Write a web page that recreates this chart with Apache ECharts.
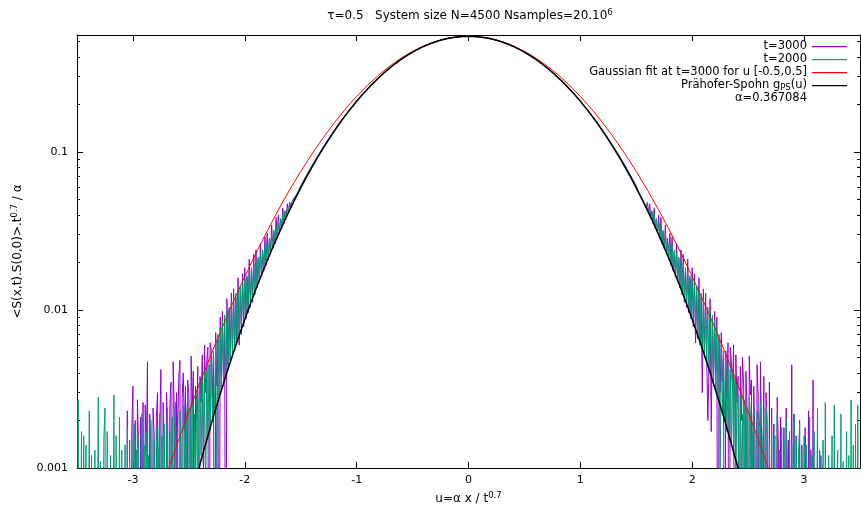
<!DOCTYPE html>
<html><head><meta charset="utf-8">
<script src="https://cdn.jsdelivr.net/npm/echarts@6/dist/echarts.min.js"></script>
<style>html,body{margin:0;padding:0;background:#fff}#c{width:861px;height:507px}</style>
</head><body><div id="c"></div>
<script>
// ---- tick labels ----
const xTicks = [-3, -2, -1, 0, 1, 2, 3];
const yMajorTicks = [0.001, 0.01, 0.1];
const yTickLabels = ['0.001', '0.01', '0.1'];
const yMinorTicks = [0.002,0.003,0.004,0.005,0.006,0.007,0.008,0.009,
                     0.02,0.03,0.04,0.05,0.06,0.07,0.08,0.09,
                     0.2,0.3,0.4,0.5];

// ---- series names ----
const seriesNames = ['t=3000', 't=2000', 'Gaussian fit at t=3000 for u [-0.5,0.5]', 'Prähofer-Spohn gPS(u)', 'α=0.367084'];

// ---- data: central part, u = -1.50 .. 1.50 step 0.05 ----
const coreStart = -1.5, coreStep = 0.05;
const t3000Core = [0.0612,0.0708,0.0818,0.0938,0.1070,0.1213,0.1369,0.1537,0.1714,0.1903,
0.2100,0.2307,0.2521,0.2741,0.2965,0.3191,0.3419,0.3644,0.3865,0.4080,
0.4285,0.4479,0.4659,0.4824,0.4971,0.5099,0.5206,0.5290,0.5352,0.5389,
0.5401,
0.5389,0.5352,0.5290,0.5206,0.5099,0.4971,0.4824,0.4659,0.4479,0.4285,
0.4080,0.3865,0.3644,0.3419,0.3191,0.2965,0.2741,0.2521,0.2307,0.2101,
0.1904,0.1715,0.1538,0.1370,0.1214,0.1071,0.0939,0.0819,0.0709,0.0610];
const t2000Core = [0.0605,0.0702,0.0812,0.0932,0.1064,0.1207,0.1363,0.1531,0.1709,0.1898,
0.2097,0.2304,0.2519,0.2739,0.2964,0.3190,0.3418,0.3643,0.3864,0.4079,
0.4284,0.4478,0.4658,0.4823,0.4970,0.5098,0.5205,0.5289,0.5351,0.5388,
0.5400,
0.5388,0.5351,0.5289,0.5205,0.5098,0.4970,0.4823,0.4658,0.4478,0.4284,
0.4079,0.3864,0.3643,0.3418,0.3190,0.2964,0.2739,0.2519,0.2304,0.2097,
0.1898,0.1709,0.1531,0.1363,0.1207,0.1064,0.0932,0.0812,0.0702,0.0606];

// ---- data: noisy tails, step 0.01, values in units of 1e-4 (0 = below the plotted range) ----
const tailStep = 0.01;
const leftTailStart = -3.50;   // -3.50 .. -1.51
const rightTailStart = 1.51;   //  1.51 ..  3.50
const t2000TailLeftE4 = [
0,27,0,0,17,0,16,0,14,0, 0,23,0,12,0,0,13,0,0,28, 0,11,0,0,15,24,0,17,0,0, 12,0,0,29,0,16,0,0,21,0,
13,0,0,14,0,18,0,11,0,15, 0,19,0,13,0,16,0,0,22,0, 14,0,17,0,12,0,20,0,0,15, 0,18,0,13,22,0,16,0,19,0,
14,24,0,17,0,21,0,15,26,0, 18,0,23,13,0,25,17,0,22,28, 0,24,8,27,0,22,9,29,4,26, 34,12,37,13,40,6,42,15,45,17,
48,20,55,22,62,8,70,28,78,31, 86,35,93,38,98,42,104,47,112,52, 119,57,127,63,135,69,141,76,149,83, 157,91,165,100,175,109,185,119,195,130,
204,142,216,154,227,167,240,181,253,197, 267,213,284,230,301,249,321,268,340,289, 360,311,380,334,401,359,425,386,440,414, 462,452,480,478,505,512,535,540,565,578];
const t3000TailLeftE4 = [
0,0,0,0,0,0,0,0,0,0, 0,0,0,0,0,0,0,0,0,0, 0,0,0,0,0,0,0,0,0,0, 0,0,0,0,0,0,0,0,0,0,
0,0,0,0,0,23,0,15,0,18, 33,0,20,0,27,14,0,21,0,26, 0,25,12,47,0,22,18,0,24,16, 0,21,30,0,18,42,0,26,14,0,
30,19,0,24,35,0,47,21,0,30, 16,38,48,0,28,40,17,33,0,36, 29,0,51,24,41,0,33,20,44,0, 38,26,52,8,60,30,47,58,0,62,
55,28,52,0,72,33,66,0,90,40, 98,33,88,0,118,45,100,48,128,50, 136,55,120,62,160,60,135,70,170,78, 185,88,160,96,210,104,178,112,225,125,
240,138,210,150,265,162,232,176,290,192, 305,208,275,225,345,244,310,262,385,283, 400,305,372,328,440,352,420,380,470,408, 480,450,478,470,515,505,530,535,565,570];
const t2000TailRightE4 = [
578,565,540,535,512,505,478,480,452,462, 414,440,386,425,359,401,334,380,311,360, 289,340,268,321,249,301,230,284,213,267, 197,253,181,240,167,227,154,216,142,204,
130,195,119,185,109,175,100,165,91,157, 83,149,76,141,69,135,63,127,57,119, 52,112,47,104,42,98,38,93,35,86, 31,78,28,70,9,62,22,55,20,48,
17,45,15,42,14,40,12,37,6,34, 26,4,29,9,22,0,27,8,24,0, 28,22,0,17,25,0,13,23,0,18, 26,0,15,21,0,24,17,0,14,0,
19,0,12,16,0,22,0,13,0,18, 0,15,0,20,12,0,17,0,14,0, 22,0,15,0,12,19,0,13,0,16, 0,14,0,0,21,0,12,0,17,0,
0,24,0,13,0,0,15,0,26,0, 0,12,0,0,16,0,25,0,0,13, 0,0,22,0,11,0,0,17,0,12, 0,27,0,14,0,19,0,25,0,0];
const t3000TailRightE4 = [
570,565,535,530,505,515,470,478,450,480, 408,470,380,420,352,440,328,372,305,400, 283,385,262,310,244,345,225,275,208,305, 192,290,176,232,162,265,150,210,138,240,
125,225,112,178,104,210,96,160,88,185, 78,170,62,135,66,160,60,120,30,136, 50,128,48,20,45,118,17,88,33,98, 40,90,0,66,30,72,35,52,0,55,
28,62,0,58,47,30,60,0,52,26, 38,0,44,20,50,33,0,41,24,0, 51,29,36,0,33,17,0,45,28,0, 47,16,0,38,0,30,20,0,35,0,
24,0,19,0,0,28,14,0,21,0, 0,18,0,24,0,15,0,0,45,0, 22,0,16,0,0,20,0,14,0,0, 18,0,0,23,0,13,0,36,0,0,
0,15,0,0,12,0,0,0,0,0, 0,0,0,0,0,0,0,0,0,0, 0,0,0,0,0,0,0,0,0,0, 0,0,0,0,0,0,0,0,0,0];

// ---- Prähofer-Spohn curve, u = -2.55 .. 2.55 step 0.05 ----
const psStart = -2.55, psStep = 0.05;
const psVals = [0.000415,0.000573,0.000783,0.00106,0.00142,0.00190,0.00250,0.00326,0.00423,0.00542,
0.00690,0.00871,0.01091,0.01356,0.01671,0.0205,0.0249,0.0300,0.0359,0.0427,
0.0504,0.0592,0.0690,0.0800,0.0921,0.1054,0.1199,0.1356,0.1525,0.1704,
0.1894,0.2094,0.2302,0.2517,0.2738,0.2963,0.3190,0.3418,0.3643,0.3864,
0.4079,0.4284,0.4478,0.4658,0.4823,0.4970,0.5098,0.5205,0.5289,0.5351,0.5388,
0.5400,
0.5388,0.5351,0.5289,0.5205,0.5098,0.4970,0.4823,0.4658,0.4478,0.4284,
0.4079,0.3864,0.3643,0.3418,0.3190,0.2963,0.2738,0.2517,0.2302,0.2094,
0.1894,0.1704,0.1525,0.1356,0.1199,0.1054,0.0921,0.0800,0.0690,0.0592,
0.0504,0.0427,0.0359,0.0300,0.0249,0.0205,0.01671,0.01356,0.01091,0.00871,
0.00690,0.00542,0.00423,0.00326,0.00250,0.00190,0.00142,0.00106,0.000783,0.000573,0.000415];

// ---- Gaussian fit, u = -2.8 .. 2.8 step 0.1 ----
const gaussStart = -2.8, gaussStep = 0.1;
const gaussVals = [0.000563,0.000912,0.00145,0.00227,0.00348,0.00525,0.00780,0.01137,0.01627,0.02291,
0.0316,0.0430,0.0574,0.0753,0.0970,0.1228,0.1529,0.1871,0.2248,0.2655,
0.3082,0.3515,0.3939,0.4337,0.4694,0.4991,0.5214,0.5353,
0.5400,
0.5353,0.5214,0.4991,0.4694,0.4337,0.3939,0.3515,0.3082,0.2655,0.2248,
0.1871,0.1529,0.1228,0.0970,0.0753,0.0574,0.0430,0.0316,0.02291,0.01627,
0.01137,0.00780,0.00525,0.00348,0.00227,0.00145,0.000912,0.000563];

// ---- build [u, value] pairs ----
const BELOW = 1e-5;
function grid(start, step, vals, scale) {
  return vals.map((v, i) => [+(start + i * step).toFixed(3), v > 0 ? v * scale : BELOW]);
}
const t3000Data = [].concat(
  grid(leftTailStart, tailStep, t3000TailLeftE4, 1e-4),
  grid(coreStart, coreStep, t3000Core, 1),
  grid(rightTailStart, tailStep, t3000TailRightE4, 1e-4));
const t2000Data = [].concat(
  grid(leftTailStart, tailStep, t2000TailLeftE4, 1e-4),
  grid(coreStart, coreStep, t2000Core, 1),
  grid(rightTailStart, tailStep, t2000TailRightE4, 1e-4));
const psData = grid(psStart, psStep, psVals, 1);
const gaussData = grid(gaussStart, gaussStep, gaussVals, 1);

const FONT = 'DejaVu Sans';
const supStyle = { fontSize: 8.5, fontFamily: FONT, color: '#000', verticalAlign: 'top', lineHeight: 15 };
const subStyle = { fontSize: 8.5, fontFamily: FONT, color: '#000', verticalAlign: 'bottom', lineHeight: 13 };
const nameText = { fontSize: 12, fontFamily: FONT, color: '#000', lineHeight: 15 };
// legend key: a thin horizontal bar inside a 35x13 box
const legendLineIcon = 'path://M0,0H0.01V0.01H0Z M0,5.9H35V7.2H0Z M0,12.99H0.01V13H0Z';

const axisLineStyle = { color: '#000', width: 1 };
function xAx(pos, showLabel) {
  return {
    type: 'value', min: -3.5, max: 3.5, position: pos,
    axisLine: { show: true, onZero: false, lineStyle: axisLineStyle },
    axisTick: { show: true, inside: true, length: 6, customValues: xTicks, lineStyle: axisLineStyle },
    axisLabel: { show: showLabel, customValues: xTicks, margin: 7, color: '#000', fontSize: 11, fontFamily: FONT },
    splitLine: { show: false }
  };
}
function yAx(pos, major, showLine) {
  return {
    type: 'log', logBase: 10, min: 0.001, max: 0.55, position: pos,
    axisLine: { show: showLine, onZero: false, lineStyle: axisLineStyle },
    axisTick: { show: true, inside: true, length: major ? 6 : 3, customValues: major ? yMajorTicks : yMinorTicks, lineStyle: axisLineStyle },
    axisLabel: { show: major && pos === 'left', customValues: yMajorTicks, margin: 9, color: '#000', fontSize: 11, fontFamily: FONT,
      formatter: v => { const i = yMajorTicks.findIndex(t => Math.abs(Math.log10(t) - Math.log10(v)) < 1e-6); return i >= 0 ? yTickLabels[i] : ''; } },
    splitLine: { show: false }, minorTick: { show: false }
  };
}

const xBottom = xAx('bottom', true);
xBottom.name = 'u=α x / t{sup|0.7}';
xBottom.nameLocation = 'middle';
xBottom.nameGap = 23;
xBottom.nameTextStyle = Object.assign({}, nameText, { rich: { sup: supStyle } });

const yLeft = yAx('left', true, true);
yLeft.name = '<S(x,t).S(0,0)>.t{sup|0.7} / α';
yLeft.nameLocation = 'middle';
yLeft.nameGap = 51;
yLeft.nameTextStyle = Object.assign({}, nameText, { rich: { sup: supStyle } });

const chart = echarts.init(document.getElementById('c'));
chart.setOption({
  animation: false,
  backgroundColor: '#fff',
  title: {
    text: 'τ=0.5   System size N=4500 Nsamples=20.10{sup|6}',
    left: 465, top: 3, textAlign: 'center',
    textStyle: Object.assign({}, nameText, { fontWeight: 'normal', rich: { sup: supStyle } })
  },
  grid: { left: 77, right: 1, top: 35, bottom: 39, containLabel: false, outerBoundsMode: 'none' },
  xAxis: [xBottom, xAx('top', false)],
  yAxis: [yLeft, yAx('left', false, false), yAx('right', true, true), yAx('right', false, false)],
  legend: {
    orient: 'vertical', right: 14, top: 40, align: 'right', padding: 0,
    itemWidth: 35, itemHeight: 13, itemGap: 0, selectedMode: false,
    textStyle: { fontSize: 11.5, fontFamily: FONT, color: '#000', lineHeight: 13, rich: { sub: subStyle } },
    formatter: n => n === seriesNames[3] ? 'Prähofer-Spohn g{sub|PS}(u)' : n,
    data: [
      { name: seriesNames[0], icon: legendLineIcon },
      { name: seriesNames[1], icon: legendLineIcon },
      { name: seriesNames[2], icon: legendLineIcon },
      { name: seriesNames[3], icon: legendLineIcon },
      { name: seriesNames[4], icon: 'none' }
    ]
  },
  series: [
    { name: seriesNames[0], type: 'line', data: t3000Data, symbol: 'none', clip: true, silent: true,
      lineStyle: { color: '#9400d3', width: 1 }, itemStyle: { color: '#9400d3' } },
    { name: seriesNames[1], type: 'line', data: t2000Data, symbol: 'none', clip: true, silent: true,
      lineStyle: { color: '#009e73', width: 1 }, itemStyle: { color: '#009e73' } },
    { name: seriesNames[2], type: 'line', data: gaussData, symbol: 'none', clip: true, silent: true,
      lineStyle: { color: '#ff0000', width: 1 }, itemStyle: { color: '#ff0000' } },
    { name: seriesNames[3], type: 'line', data: psData, symbol: 'none', clip: true, silent: true,
      lineStyle: { color: '#000000', width: 1.5 }, itemStyle: { color: '#000000' } },
    { name: seriesNames[4], type: 'scatter', data: [], symbol: 'none', itemStyle: { color: '#000' } }
  ]
});
</script>
</body></html>
